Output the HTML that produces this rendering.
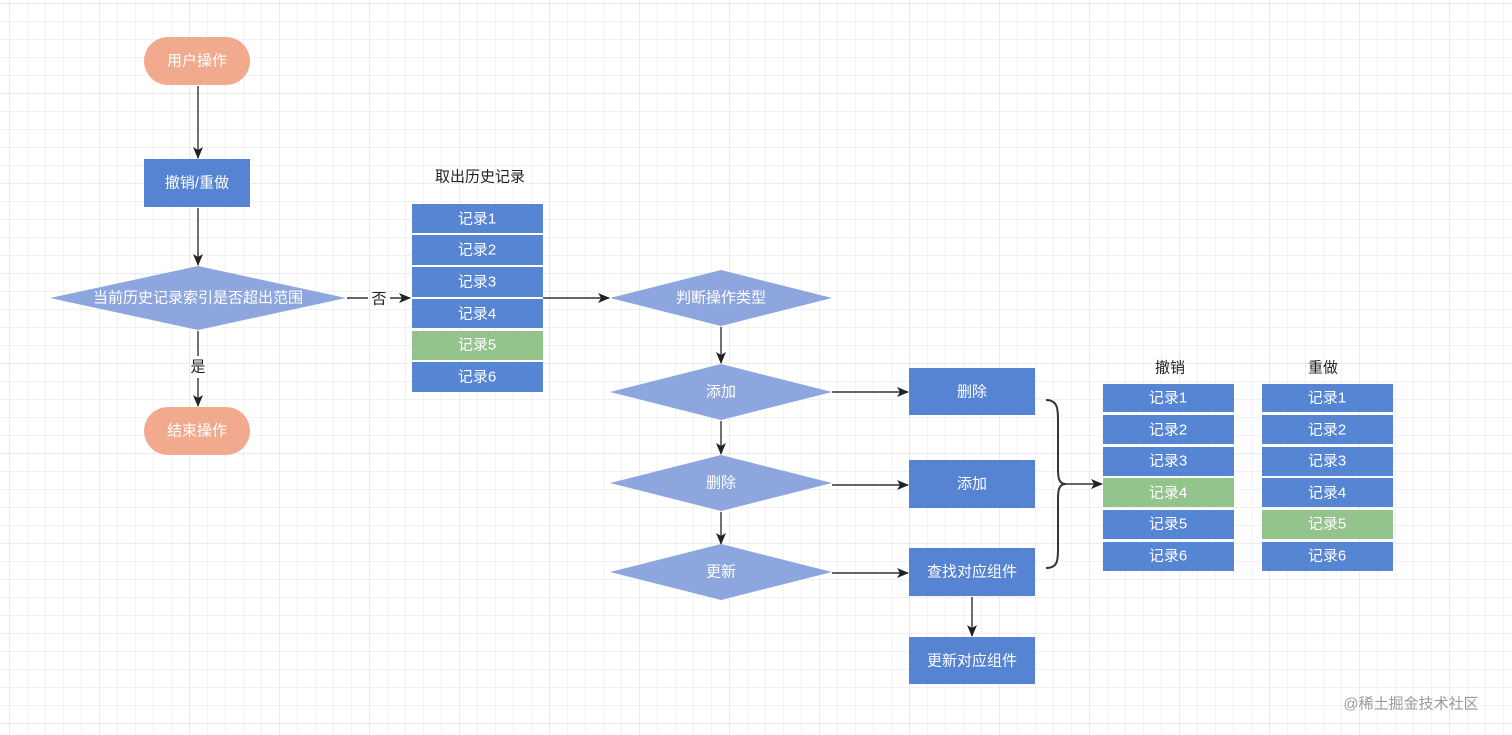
<!DOCTYPE html>
<html><head><meta charset="utf-8"><style>
html,body{margin:0;padding:0;background:#fff;}
svg{display:block;}
text{font-family:"Liberation Sans","Noto Sans CJK SC",sans-serif;font-size:15px;}
</style></head><body>
<svg width="1512" height="735" viewBox="0 0 1512 735" xmlns="http://www.w3.org/2000/svg">
<defs>
<pattern id="g" x="9" y="3" width="18" height="18" patternUnits="userSpaceOnUse">
<path d="M0 0H18M0 0V18" stroke="#e6e6e6" stroke-width="1" fill="none"/>
</pattern>
<pattern id="G" x="9" y="3" width="90" height="90" patternUnits="userSpaceOnUse">
<path d="M0 0H90M0 0V90" stroke="#dadada" stroke-width="1" fill="none"/>
</pattern>
<marker id="a" markerWidth="12" markerHeight="12" refX="11" refY="6" orient="auto" markerUnits="userSpaceOnUse">
<path d="M0 1L12 6L0 11L3 6Z" fill="#222"/>
</marker>
</defs>
<rect width="1512" height="735" fill="url(#g)"/>
<rect width="1512" height="735" fill="url(#G)"/>

<g stroke="#333" stroke-width="1.4" fill="none" marker-end="url(#a)">
<path d="M198 86V158"/>
<path d="M198 208V265"/>
<path d="M198 378V406"/>
<path d="M390 298H410"/>
<path d="M543 298H609"/>
<path d="M721 327V363"/>
<path d="M721 421V454"/>
<path d="M721 512V544"/>
<path d="M832 392H908"/>
<path d="M832 485H908"/>
<path d="M832 573H908"/>
<path d="M972 597V636"/>
<path d="M1062 484H1102"/>
</g>
<g stroke="#333" stroke-width="1.4" fill="none">
<path d="M198 331V356"/>
<path d="M347 298H368"/>
<path d="M1046 400C1058 400 1058 410 1058 420V470C1058 480 1060 484 1066 484C1060 484 1058 488 1058 498V548C1058 560 1058 568 1046 568" stroke-width="2"/>
</g>

<g fill="#fff" text-anchor="middle" dominant-baseline="central">
<rect x="144" y="37" width="106" height="48" rx="24" fill="#F2AA8F"/>
<text x="197" y="61">用户操作</text>
<rect x="144" y="159" width="106" height="48" fill="#5683D2"/>
<text x="197" y="183">撤销/重做</text>
<polygon points="50,298 198,266 346,298 198,330" fill="#8DA6DE"/>
<text x="198" y="298">当前历史记录索引是否超出范围</text>
<rect x="144" y="407" width="106" height="48" rx="24" fill="#F2AA8F"/>
<text x="197" y="431">结束操作</text>

<polygon points="610,298 721,270 832,298 721,326" fill="#8DA6DE"/>
<text x="721" y="298">判断操作类型</text>
<polygon points="610,392 721,364 832,392 721,420" fill="#8DA6DE"/>
<text x="721" y="392">添加</text>
<polygon points="610,483 721,455 832,483 721,511" fill="#8DA6DE"/>
<text x="721" y="483">删除</text>
<polygon points="610,572 721,544 832,572 721,600" fill="#8DA6DE"/>
<text x="721" y="572">更新</text>

<rect x="909" y="368" width="126" height="47" fill="#5683D2"/><text x="972" y="392">删除</text>
<rect x="909" y="460" width="126" height="48" fill="#5683D2"/><text x="972" y="484">添加</text>
<rect x="909" y="548" width="126" height="48" fill="#5683D2"/><text x="972" y="572">查找对应组件</text>
<rect x="909" y="637" width="126" height="47" fill="#5683D2"/><text x="972" y="661">更新对应组件</text>

<rect x="412" y="204" width="131" height="29" fill="#5585D3"/><text x="477" y="219">记录1</text>
<rect x="412" y="235" width="131" height="30" fill="#5585D3"/><text x="477" y="250">记录2</text>
<rect x="412" y="267" width="131" height="30" fill="#5585D3"/><text x="477" y="282">记录3</text>
<rect x="412" y="299" width="131" height="29" fill="#5585D3"/><text x="477" y="314">记录4</text>
<rect x="412" y="331" width="131" height="29" fill="#93C48B"/><text x="477" y="345">记录5</text>
<rect x="412" y="362" width="131" height="30" fill="#5585D3"/><text x="477" y="377">记录6</text>

<rect x="1103" y="384" width="131" height="28" fill="#5585D3"/><text x="1168" y="398">记录1</text>
<rect x="1103" y="415" width="131" height="29" fill="#5585D3"/><text x="1168" y="430">记录2</text>
<rect x="1103" y="447" width="131" height="29" fill="#5585D3"/><text x="1168" y="461">记录3</text>
<rect x="1103" y="478" width="131" height="29" fill="#93C48B"/><text x="1168" y="493">记录4</text>
<rect x="1103" y="510" width="131" height="29" fill="#5585D3"/><text x="1168" y="524">记录5</text>
<rect x="1103" y="542" width="131" height="29" fill="#5585D3"/><text x="1168" y="556">记录6</text>
<rect x="1262" y="384" width="131" height="28" fill="#5585D3"/><text x="1327" y="398">记录1</text>
<rect x="1262" y="415" width="131" height="29" fill="#5585D3"/><text x="1327" y="430">记录2</text>
<rect x="1262" y="447" width="131" height="29" fill="#5585D3"/><text x="1327" y="461">记录3</text>
<rect x="1262" y="478" width="131" height="29" fill="#5585D3"/><text x="1327" y="493">记录4</text>
<rect x="1262" y="510" width="131" height="29" fill="#93C48B"/><text x="1327" y="524">记录5</text>
<rect x="1262" y="542" width="131" height="29" fill="#5585D3"/><text x="1327" y="556">记录6</text>
</g>

<g fill="#222" text-anchor="middle" dominant-baseline="central">
<text x="480" y="177">取出历史记录</text>
<text x="1170" y="368">撤销</text>
<text x="1323" y="368">重做</text>
<text x="379" y="299">否</text>
<text x="198" y="367">是</text>
</g>
<text x="1411" y="704" fill="#999" font-size="17" text-anchor="middle" dominant-baseline="central">@稀土掘金技术社区</text>
</svg>
</body></html>
